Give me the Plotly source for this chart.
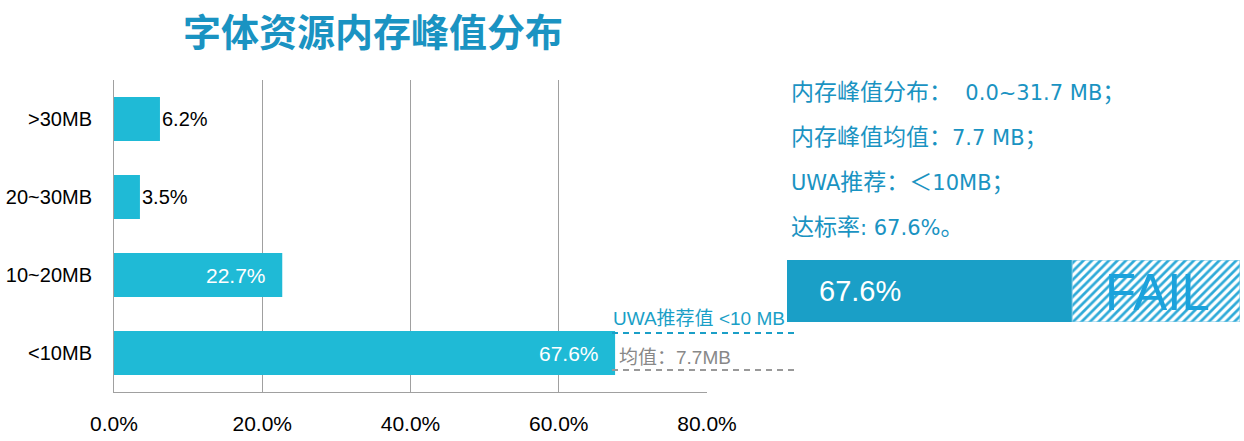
import plotly.graph_objects as go

# ---- data ----
categories = ["<10MB", "10~20MB", "20~30MB", ">30MB"]
shares = [67.6, 22.7, 3.5, 6.2]            # percent
x_ticks = [0, 20, 40, 60, 80]
x_tick_labels = ["0.0%", "20.0%", "40.0%", "60.0%", "80.0%"]
mean_peak_mb = 7.7
uwa_limit_mb = 10
peak_range = (0.0, 31.7)
pass_rate = 67.6

title_text = "字体资源内存峰值分布"

# ---- layout constants ----
W, H = 1244, 441
FONT = "Liberation Sans, Arial, Noto Sans CJK SC, sans-serif"
SUMFONT = "DejaVu Sans, Noto Sans CJK SC, sans-serif"
CJK = "Noto Sans CJK SC, Liberation Sans, sans-serif"
BAR = "#1fbad6"
TEAL = "#1a93c2"
PANEL = "#1a9fc7"
GRID = "#a0a0a0"
PANEL_AXIS_MAX = 107.4


def cj(s):
    return f'<span style="font-size:23px">{s}</span>'


summary_lines = [
    cj("内存峰值分布：") + f"  {peak_range[0]:.1f}~{peak_range[1]:.1f} MB" + cj("；"),
    cj("内存峰值均值：") + f"{mean_peak_mb} MB" + cj("；"),
    "UWA" + cj("推荐：＜") + f"{uwa_limit_mb}MB" + cj("；"),
    cj("达标率") + f": {pass_rate}%" + cj("。"),
]


def px(x):
    return x / W


def py(y):
    return 1 - y / H


fig = go.Figure()

fig.add_trace(go.Bar(
    y=categories, x=shares, orientation="h",
    marker=dict(color=BAR, line=dict(width=0)),
    hoverinfo="skip", showlegend=False,
))

# panel bar (pass / fail)
fig.add_trace(go.Bar(
    y=[0], x=[pass_rate], base=[0], orientation="h", width=1,
    marker=dict(color=PANEL, line=dict(width=0)),
    xaxis="x2", yaxis="y2", showlegend=False, hoverinfo="skip",
))
fig.add_trace(go.Bar(
    y=[0], x=[PANEL_AXIS_MAX - pass_rate], base=[pass_rate], orientation="h", width=1,
    marker=dict(color="white", line=dict(width=1, color="#7cc8e6"),
                pattern=dict(shape="/", fgcolor="#2eaad8", bgcolor="white",
                             size=6, solidity=0.45, fillmode="replace")),
    xaxis="x2", yaxis="y2", showlegend=False, hoverinfo="skip",
))

annotations = []
# bar labels
for c, v in zip(categories, shares):
    if v > 10:
        annotations.append(dict(x=v, y=c, xref="x", yref="y", text=f"{v}%",
                                showarrow=False, xanchor="right", xshift=-14,
                                font=dict(family=FONT, size=21, color="white")))
    else:
        annotations.append(dict(x=v, y=c, xref="x", yref="y", text=f"{v}%",
                                showarrow=False, xanchor="left", xshift=0,
                                font=dict(family=FONT, size=20, color="black")))

# title
annotations.append(dict(x=px(373), y=py(30), xref="paper", yref="paper",
                        text=f"<b>{title_text}</b>", showarrow=False,
                        xanchor="center", yanchor="middle",
                        font=dict(family=CJK, size=38, color=TEAL)))

# summary lines
for line, yy in zip(summary_lines, [92, 137, 182, 227]):
    annotations.append(dict(x=px(789), y=py(yy), xref="paper", yref="paper",
                            text=line, showarrow=False, xanchor="left", yanchor="middle",
                            font=dict(family=SUMFONT, size=21, color=TEAL)))

# reference line labels
annotations.append(dict(x=px(611), y=py(318), xref="paper", yref="paper",
                        text=f"UWA推荐值 <{uwa_limit_mb} MB", showarrow=False,
                        xanchor="left", yanchor="middle",
                        font=dict(family=FONT, size=19, color=PANEL)))
annotations.append(dict(x=px(617), y=py(357), xref="paper", yref="paper",
                        text=f"均值：{mean_peak_mb}MB", showarrow=False,
                        xanchor="left", yanchor="middle",
                        font=dict(family=FONT, size=19, color="#888888")))

# panel texts
annotations.append(dict(x=px(817), y=py(291), xref="paper", yref="paper",
                        text=f"{pass_rate}%", showarrow=False,
                        xanchor="left", yanchor="middle",
                        font=dict(family=FONT, size=29, color="white")))
annotations.append(dict(x=px(1157), y=py(292), xref="paper", yref="paper",
                        text="FAIL", showarrow=False,
                        xanchor="center", yanchor="middle",
                        font=dict(family=FONT, size=51, color="#1ba2dc")))

shapes = [
    dict(type="line", xref="paper", yref="paper", x0=px(612), x1=px(797),
         y0=py(333), y1=py(333), line=dict(color=PANEL, width=2, dash="6px,5px")),
    dict(type="line", xref="paper", yref="paper", x0=px(612), x1=px(797),
         y0=py(370), y1=py(370), line=dict(color="#999999", width=2, dash="6px,5px")),
]

fig.update_layout(
    width=W, height=H,
    margin=dict(l=0, r=0, t=0, b=0, pad=0),
    paper_bgcolor="white", plot_bgcolor="white",
    barmode="overlay", bargap=0.435,
    font=dict(family=FONT, color="black"),
    xaxis=dict(domain=[px(114), px(707)], range=[0, 80], tickvals=x_ticks,
               ticktext=x_tick_labels, showgrid=True, gridcolor=GRID, gridwidth=1,
               showline=True, linecolor=GRID, linewidth=1, zeroline=False,
               ticks="", tickfont=dict(family=FONT, size=21, color="black"),
               ticklabelstandoff=13, fixedrange=True, automargin=False),
    yaxis=dict(domain=[py(392), py(80)], categoryorder="array", categoryarray=categories,
               range=[-0.5, 3.5], showgrid=False, showline=True, linecolor=GRID,
               linewidth=1, ticks="", tickfont=dict(family=FONT, size=20, color="black"),
               ticklabelstandoff=17, fixedrange=True, automargin=False),
    xaxis2=dict(domain=[px(787), px(1240)], range=[0, PANEL_AXIS_MAX], visible=False,
                anchor="y2", fixedrange=True, automargin=False),
    yaxis2=dict(domain=[py(322), py(260)], range=[-0.5, 0.5], visible=False,
                anchor="x2", fixedrange=True, automargin=False),
    annotations=annotations,
    shapes=shapes,
)

fig.write_html("out.html")
